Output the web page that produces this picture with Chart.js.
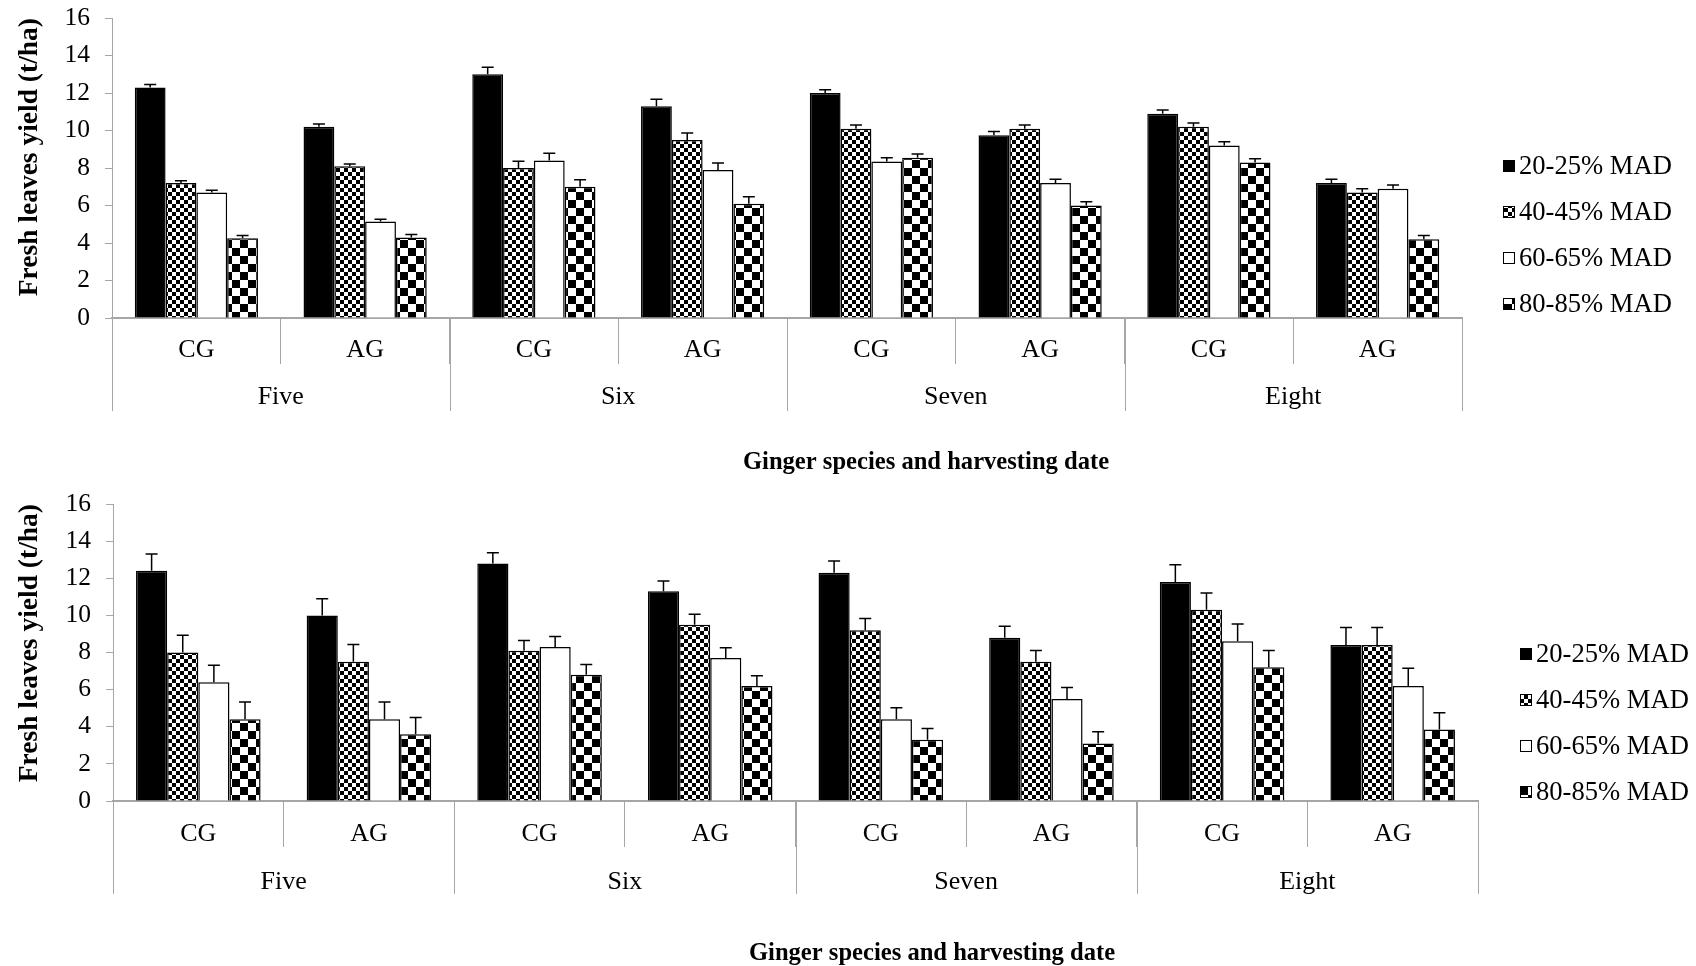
<!DOCTYPE html>
<html lang="en">
<head>
    <meta charset="UTF-8">
    <title>Fresh leaves yield by MAD level</title>
    <script src="https://cdn.jsdelivr.net/npm/chart.js"></script>
    <style>
        body { margin: 0; background: #fff; }
        .panel { position: absolute; left: 0; width: 1696px; height: 483px; }
    </style>
</head>
<body>
    <div class="panel" style="top:0"><canvas id="chartA" width="1696" height="483"></canvas></div>
    <div class="panel" style="top:483px"><canvas id="chartB" width="1696" height="483"></canvas></div>

    <script>
        // categories (species) and the harvest date each pair belongs to
        const categories = ['CG', 'AG', 'CG', 'AG', 'CG', 'AG', 'CG', 'AG'];
        const harvestLabels = ['Five', 'Six', 'Seven', 'Eight'];
        const madLabels = ['20-25% MAD', '40-45% MAD', '60-65% MAD', '80-85% MAD'];
        const yMin = 0, yMax = 16, yStep = 2;

        // panel A
        const mad20A = [12.3, 10.2, 13.0, 11.3, 12.0, 9.75, 10.9, 7.2];
        const mad40A = [7.2, 8.1, 8.0, 9.5, 10.1, 10.1, 10.2, 6.7];
        const mad60A = [6.7, 5.15, 8.4, 7.9, 8.35, 7.2, 9.2, 6.9];
        const mad80A = [4.25, 4.3, 7.0, 6.1, 8.55, 6.0, 8.3, 4.2];
        const err20A = [0.15, 0.15, 0.37, 0.37, 0.18, 0.2, 0.2, 0.2];
        const err40A = [0.12, 0.12, 0.36, 0.37, 0.2, 0.2, 0.2, 0.2];
        const err60A = [0.12, 0.12, 0.39, 0.37, 0.2, 0.2, 0.2, 0.2];
        const err80A = [0.15, 0.15, 0.37, 0.37, 0.2, 0.2, 0.2, 0.2];

        // panel B
        const mad20B = [12.4, 10.0, 12.8, 11.3, 12.3, 8.8, 11.8, 8.4];
        const mad40B = [8.0, 7.5, 8.1, 9.5, 9.2, 7.5, 10.3, 8.4];
        const mad60B = [6.4, 4.4, 8.3, 7.7, 4.4, 5.5, 8.6, 6.2];
        const mad80B = [4.4, 3.6, 6.8, 6.2, 3.3, 3.1, 7.2, 3.85];
        const err20B = [0.9, 0.9, 0.57, 0.55, 0.63, 0.61, 0.93, 0.95];
        const err40B = [0.93, 0.93, 0.54, 0.56, 0.63, 0.61, 0.91, 0.95];
        const err60B = [0.91, 0.93, 0.56, 0.55, 0.62, 0.61, 0.93, 0.95];
        const err80B = [0.93, 0.9, 0.56, 0.55, 0.61, 0.63, 0.91, 0.91];

        const SERIF = "'Liberation Serif', 'Times New Roman', serif";
        const AXIS_GREY = '#a6a6a6';
        Chart.defaults.font.family = SERIF;
        Chart.defaults.color = '#000';

        function checker(ctx, cell) {
            const c = document.createElement('canvas');
            c.width = c.height = cell * 2;
            const g = c.getContext('2d');
            g.fillStyle = '#fff';
            g.fillRect(0, 0, cell * 2, cell * 2);
            g.fillStyle = '#000';
            g.fillRect(0, 0, cell, cell);
            g.fillRect(cell, cell, cell, cell);
            return ctx.createPattern(c, 'repeat');
        }

        function buildChart(id, values, errors, box) {
            const ctx = document.getElementById(id).getContext('2d');
            const fills = ['#000', checker(ctx, 4), '#fff', checker(ctx, 8)];

            // upper error bars with a cap
            const errorBars = {
                id: 'errorBars',
                afterDatasetsDraw(chart) {
                    const c = chart.ctx, y = chart.scales.y;
                    c.save();
                    c.strokeStyle = '#000';
                    c.lineWidth = 1.5;
                    chart.data.datasets.forEach((ds, i) => {
                        chart.getDatasetMeta(i).data.forEach((bar, j) => {
                            const top = y.getPixelForValue(ds.data[j] + ds.errors[j]);
                            c.beginPath();
                            c.moveTo(bar.x, bar.y);
                            c.lineTo(bar.x, top);
                            c.moveTo(bar.x - 6, top);
                            c.lineTo(bar.x + 6, top);
                            c.stroke();
                        });
                    });
                    c.restore();
                }
            };

            // second row of the x axis (harvest date), axis title and legend
            const groupAxis = {
                id: 'groupAxis',
                afterDraw(chart) {
                    const c = chart.ctx, area = chart.chartArea, x = chart.scales.x;
                    const per = categories.length / harvestLabels.length;
                    c.save();
                    c.strokeStyle = AXIS_GREY;
                    c.lineWidth = 1;
                    for (let g = 0; g <= harvestLabels.length; g++) {
                        const px = Math.round(x.getPixelForValue(g * per - 0.5)) + 0.5;
                        c.beginPath();
                        c.moveTo(px, area.bottom);
                        c.lineTo(px, area.bottom + 93);
                        c.stroke();
                    }
                    c.fillStyle = '#000';
                    c.textAlign = 'center';
                    c.textBaseline = 'middle';
                    c.font = '26px ' + SERIF;
                    harvestLabels.forEach((lab, g) => {
                        c.fillText(lab, x.getPixelForValue(g * per + (per - 1) / 2), area.bottom + box.groupY);
                    });
                    c.font = 'bold 24.6px ' + SERIF;
                    c.fillText('Ginger species and harvesting date', box.titleX, box.titleY);

                    // legend
                    c.textAlign = 'left';
                    c.font = '26.6px ' + SERIF;
                    chart.data.datasets.forEach((ds, i) => {
                        const cy = box.legendY + i * 46;
                        c.fillStyle = ds.backgroundColor;
                        c.fillRect(box.legendX, cy - 6, 12, 12);
                        c.strokeStyle = '#000';
                        c.strokeRect(box.legendX + 0.5, cy - 5.5, 11, 11);
                        c.fillStyle = '#000';
                        c.fillText(ds.label, box.legendX + 16, cy + 1);
                    });
                    c.restore();
                }
            };

            return new Chart(ctx, {
                type: 'bar',
                data: {
                    labels: categories,
                    datasets: madLabels.map((name, i) => ({
                        label: name,
                        data: values[i],
                        errors: errors[i],
                        backgroundColor: fills[i],
                        borderColor: '#000',
                        borderWidth: 1.5,
                        categoryPercentage: 0.73,
                        barPercentage: 1
                    }))
                },
                options: {
                    responsive: false,
                    animation: false,
                    layout: { padding: { top: box.top, right: 1696 - box.right, left: 0, bottom: 0 } },
                    plugins: {
                        legend: { display: false },
                        tooltip: { enabled: false }
                    },
                    scales: {
                        x: {
                            grid: { offset: true, drawOnChartArea: false, tickLength: 46, color: AXIS_GREY, lineWidth: 1 },
                            border: { color: AXIS_GREY, width: 2 },
                            ticks: { font: { size: 26 }, color: '#000', padding: box.tickPad, maxRotation: 0, autoSkip: false },
                            afterFit(scale) { scale.height = 483 - 318; }
                        },
                        y: {
                            min: yMin,
                            max: yMax,
                            ticks: { stepSize: yStep, font: { size: 25.5 }, color: '#000', padding: 15 },
                            grid: { drawOnChartArea: false, tickLength: 7, color: AXIS_GREY },
                            border: { color: AXIS_GREY, width: 1 },
                            title: {
                                display: true,
                                text: 'Fresh leaves yield (t/ha)',
                                align: 'end',
                                font: { size: 27.5, weight: 'bold' },
                                color: '#000',
                                padding: { top: 13, bottom: 0 }
                            },
                            afterFit(scale) {
                                scale.width = box.left;
                                scale.paddingTop = 0;
                                scale.paddingBottom = 0;
                            }
                        }
                    }
                },
                plugins: [errorBars, groupAxis]
            });
        }

        buildChart('chartA',
            [mad20A, mad40A, mad60A, mad80A],
            [err20A, err40A, err60A, err80A],
            { left: 112, right: 1462, top: 18, tickPad: -29, groupY: 79,
              legendX: 1503, legendY: 166, titleX: 926, titleY: 463 });

        buildChart('chartB',
            [mad20B, mad40B, mad60B, mad80B],
            [err20B, err40B, err60B, err80B],
            { left: 113, right: 1478, top: 21, tickPad: -28, groupY: 81,
              legendX: 1520, legendY: 171, titleX: 932, titleY: 471 });
    </script>
</body>
</html>
